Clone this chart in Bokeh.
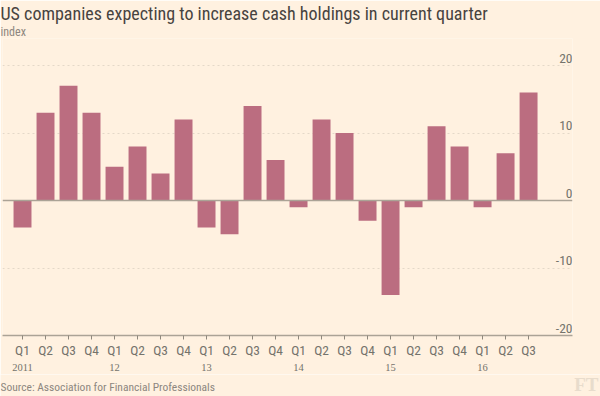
from bokeh.plotting import figure
from bokeh.layouts import column
from bokeh.models import (ColumnDataSource, LabelSet, Label, FixedTicker, Span,
                          Range1d, LinearAxis, Title)
from bokeh.core.properties import value
from bokeh.embed import file_html
from bokeh.resources import INLINE

# ---- data ----
quarters = ["Q1", "Q2", "Q3", "Q4"] * 5 + ["Q1", "Q2", "Q3"]
year_labels = ["2011", "12", "13", "14", "15", "16"]
year_positions = [0, 4, 8, 12, 16, 20]
values = [-4, 13, 17, 13, 5, 8, 4, 12, -4, -5, 14, 6, -1, 12, 10, -3, -14, -1, 11, 8, -1, 7, 16]
y_ticks = [-20, -10, 0, 10, 20]
y_tick_labels = ["-20", "-10", "0", "10", "20"]

TITLE = "US companies expecting to increase cash holdings in current quarter"
SUBTITLE = "index"
SOURCE = "Source: Association for Financial Professionals"

# ---- style ----
BG = "#fff1e0"
BAR = "#bb6d80"
TXT = "#74736c"
SANS = "Liberation Sans Narrow, Roboto Condensed, Roboto"
W, H, FOOT = 600, 374, 22
FL, FR, FT, FB = 2, 572, 38, 335
X0, X1 = -0.87, 23.91
Y0, Y1 = -20, 24.0

x = list(range(len(values)))
src = ColumnDataSource(dict(x=x, top=values))

p = figure(width=W, height=H, output_backend="svg", toolbar_location=None,
           title=None, x_range=Range1d(X0, X1), y_range=Range1d(Y0, Y1),
           y_axis_location=None,
           background_fill_color=BG, border_fill_color=BG, outline_line_color=None,
           min_border_left=FL, min_border_right=W - FR, min_border_top=FT,
           min_border_bottom=H - FB)

# grid
p.xgrid.visible = False
p.ygrid.ticker = FixedTicker(ticks=[t for t in y_ticks if t not in (0, -20)])
p.ygrid.grid_line_color = "#e4d8c9"
p.ygrid.grid_line_dash = "2 3"
p.ygrid.grid_line_width = 1

p.vbar(x="x", top="top", bottom=0, width=0.78, source=src,
       fill_color=BAR, line_color=None)

p.add_layout(Span(location=0, dimension="width", line_color="#aba396", line_width=1.5))

# x axis (quarters)
xa = p.xaxis[0]
xa.ticker = FixedTicker(ticks=x)
xa.major_label_overrides = {i: q for i, q in zip(x, quarters)}
xa.axis_line_color = "#aba396"
xa.axis_line_width = 1.5
xa.major_tick_line_color = "#8f887d"
xa.major_tick_out = 4
xa.major_tick_in = 0
xa.minor_tick_line_color = None
xa.major_label_standoff = 2
xa.major_label_text_font = SANS
xa.major_label_text_font_size = "13.5px"
xa.major_label_text_color = TXT

# year axis
ya = LinearAxis(ticker=FixedTicker(ticks=year_positions),
                major_label_overrides={p_: y for p_, y in zip(year_positions, year_labels)})
ya.axis_line_color = None
ya.major_tick_line_color = None
ya.minor_tick_line_color = None
ya.major_tick_out = 0
ya.major_tick_in = 0
ya.major_label_standoff = 3
ya.major_label_text_font = "Liberation Serif"
ya.major_label_text_font_size = "10.5px"
ya.major_label_text_color = TXT
p.add_layout(ya, "below")

# y tick labels (right, above gridlines)
ysrc = ColumnDataSource(dict(x=[X1] * len(y_ticks), y=y_ticks, t=y_tick_labels))
p.add_layout(LabelSet(x="x", y="y", text="t", source=ysrc, text_align="right",
                      text_baseline="bottom", y_offset=3,
                      text_font=value(SANS), text_font_size="13.5px", text_color=TXT))

# titles
p.add_layout(Title(text=SUBTITLE, align="left", offset=-2, standoff=0,
                   text_font=SANS, text_font_size="12px", text_font_style="normal",
                   text_color="#8d877f"), "above")
p.add_layout(Title(text=TITLE, align="left", offset=-2, standoff=-3,
                   text_font=SANS, text_font_size="18px", text_font_style="normal",
                   text_color="#47433f"), "above")

# footer strip: source + FT logo
f = figure(width=W, height=FOOT, output_backend="svg", toolbar_location=None,
           title=None, x_range=Range1d(0, W), y_range=Range1d(FOOT, 0),
           x_axis_location=None, y_axis_location=None,
           background_fill_color=BG, border_fill_color=BG, outline_line_color=None,
           min_border=0)
f.grid.visible = False
for fig in (p, f):
    try:
        fig.frame_align = False
    except Exception:
        pass
f.add_layout(Label(x=0, y=12, text=SOURCE, text_baseline="middle",
                   text_font=SANS, text_font_size="11.5px", text_color="#8d877f"))
f.add_layout(Label(x=598, y=10, text="FT", text_align="right",
                   text_baseline="middle", text_font="Liberation Serif",
                   text_font_style="bold", text_font_size="19px", text_color="#e8dccc"))

layout = column(p, f, spacing=0)
open("out.html", "w").write(file_html(layout, INLINE))
